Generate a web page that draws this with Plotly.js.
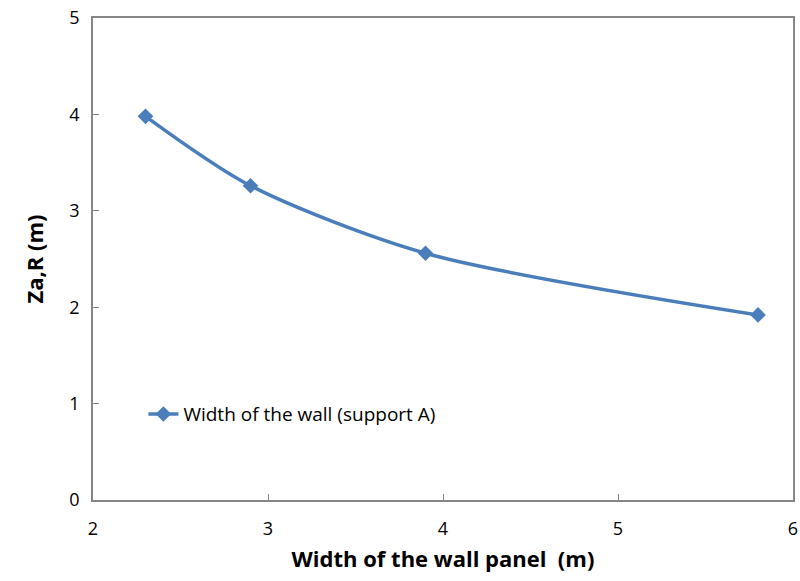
<!DOCTYPE html>
<html><head><meta charset="utf-8">
<script src="https://cdn.plot.ly/plotly-3.0.1.min.js"></script>
<style>html,body{margin:0;padding:0;background:#fff}</style>
</head><body>
<div id="chart" style="width:800px;height:581px"></div>
<script>
const xWidth = [2.3, 2.9, 3.9, 5.8];
const yZaR = [3.98, 3.26, 2.56, 1.92];
const seriesName = "Width of the wall (support A)";

const axisColor = "#868686";
const fontFam = "'Open Sans', 'Liberation Sans', sans-serif";

Plotly.newPlot("chart", [{
  x: xWidth, y: yZaR, name: seriesName, type: "scatter", mode: "lines+markers",
  line: {color: "#4A7EBB", width: 3.5, shape: "spline", smoothing: 0.8},
  marker: {symbol: "diamond", size: 12, color: "#4A7EBB"}
}], {
  width: 800, height: 581,
  margin: {l: 93, r: 7, t: 18, b: 81},
  paper_bgcolor: "#fff", plot_bgcolor: "#fff",
  font: {family: fontFam, color: "#000", size: 18},
  showlegend: true,
  legend: {x: 0.072, y: 0.178, xanchor: "left", yanchor: "middle", bgcolor: "rgba(0,0,0,0)", font: {size: 19}},
  xaxis: {
    range: [2, 6], dtick: 1, tick0: 2, showgrid: false, zeroline: false,
    showline: true, linecolor: axisColor, linewidth: 1.5, mirror: true,
    ticks: "inside", ticklen: 6, tickcolor: axisColor, ticklabelstandoff: 12,
    tickfont: {size: 18},
    title: {text: "<b>Width of the wall panel  (m)</b>", font: {size: 22}, standoff: 12}
  },
  yaxis: {
    range: [0, 5], dtick: 1, showgrid: false, zeroline: false,
    showline: true, linecolor: axisColor, linewidth: 1.5, mirror: true,
    ticks: "inside", ticklen: 6, tickcolor: axisColor, ticklabelstandoff: 8,
    tickfont: {size: 18},
    title: {text: "<b>Za,R (m)</b>", font: {size: 22}, standoff: 20}
  }
}, {displayModeBar: false});
</script>
</body></html>
